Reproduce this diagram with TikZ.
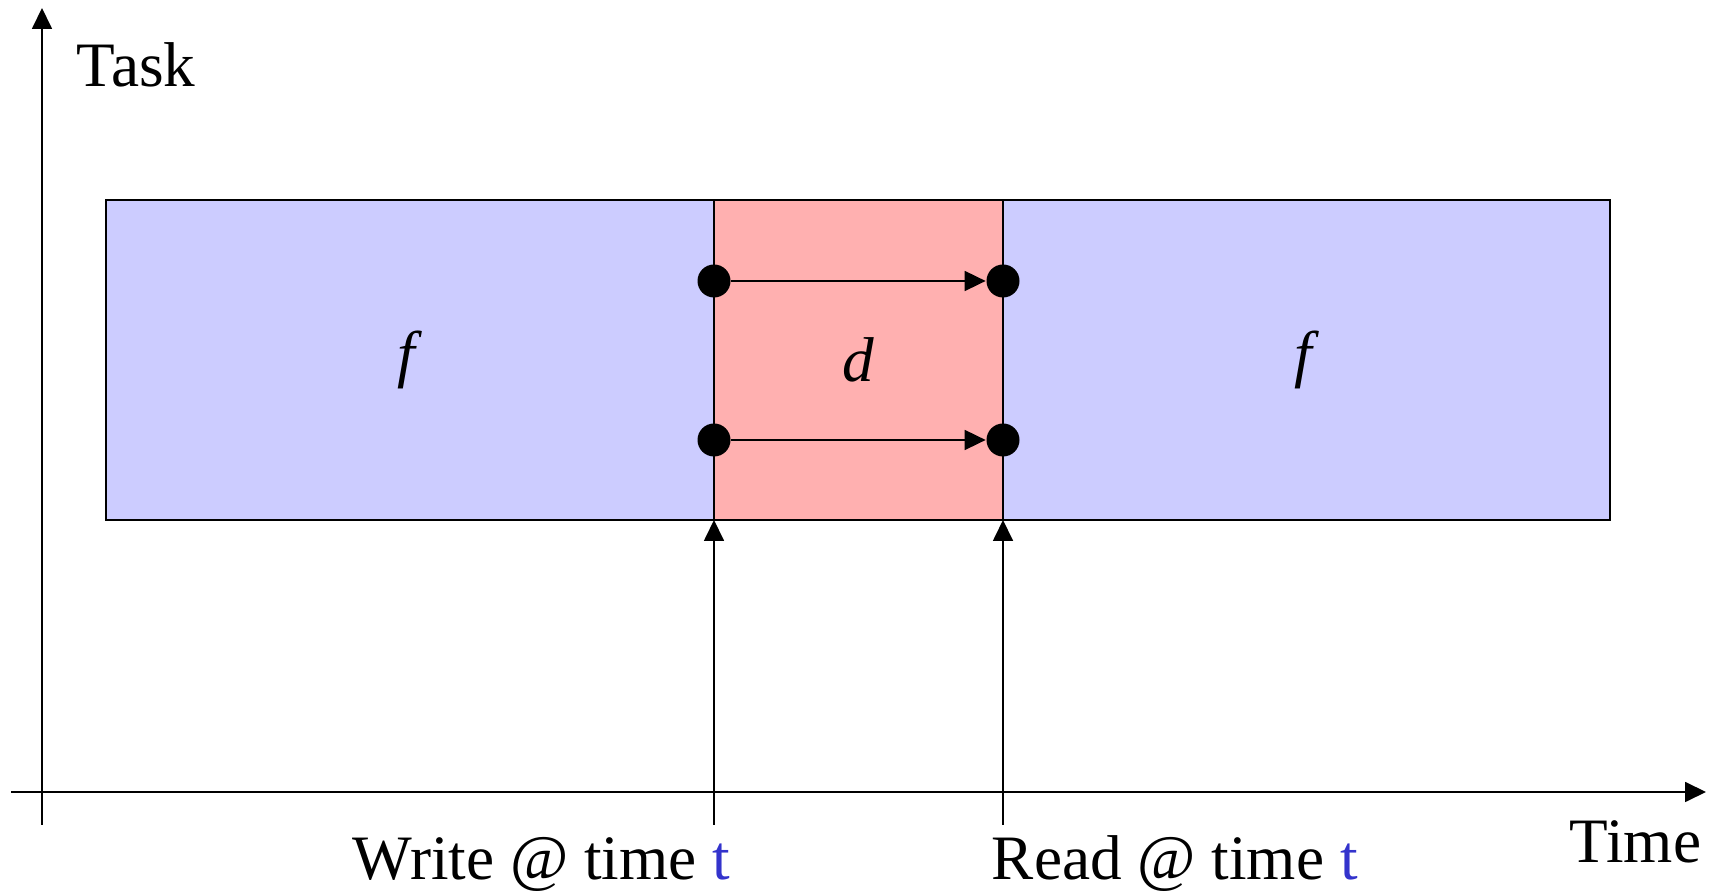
\documentclass[tikz,border=0pt]{standalone}
\usepackage{fontspec}
\setmainfont{Liberation Serif}
\usepackage{tikz}
\usetikzlibrary{arrows.meta,positioning,calc}
\definecolor{fblue}{RGB}{204,204,255}
\definecolor{dred}{RGB}{255,176,176}
\definecolor{tblue}{RGB}{51,51,204}

\begin{document}
\begin{tikzpicture}[
  font=\fontsize{36}{40}\selectfont,
  line width=1pt,
  seg/.style={draw, outer sep=0pt, inner sep=0pt, minimum height=6.4cm},
  fseg/.style={seg, fill=fblue},
  dseg/.style={seg, fill=dred},
  dot/.style={circle, fill=black, inner sep=0pt, minimum size=0.66cm},
  arr/.style={-{Triangle[length=0.42cm, width=0.4cm]}},
  lab/.style={anchor=base west, inner sep=0pt}
]
\useasboundingbox (0,0) rectangle (34.26,17.9);
% axes
\coordinate (ybot) at (0.84,1.4);
\coordinate (ytop) at (0.84,17.74);
\coordinate (xl) at (0.22,2.06);
\coordinate (xr) at (34.12,2.06);
\draw[arr] (ybot) -- (ytop);
\draw[arr] (xl) -- (xr);
\node[lab] (task) at (1.52,16.16) {Task};
\node[lab] (time) at (31.38,0.64) {Time};
% task timeline
\node[fseg, minimum width=12.16cm] (f1) at (8.2,10.7) {\textit{f}};
\node[dseg, minimum width=5.78cm, right=0pt of f1] (d) {\textit{d}};
\node[fseg, minimum width=12.14cm, right=0pt of d] (f2) {\textit{f}};
% data items
\node[dot] (w1) at (d.west |- 0,12.28) {};
\node[dot] (w2) at (d.west |- 0,9.1) {};
\node[dot] (r1) at (d.east |- 0,12.28) {};
\node[dot] (r2) at (d.east |- 0,9.1) {};
\draw[arr] (w1) -- (r1);
\draw[arr] (w2) -- (r2);
% write / read instants
\coordinate (wb) at (d.south west |- ybot);
\coordinate (rb) at (d.south east |- ybot);
\draw[arr] (wb) -- (d.south west);
\draw[arr] (rb) -- (d.south east);
\node[lab] (write) at (7.04,0.3) {Write @ time \textcolor{tblue}{t}};
\node[lab] (read) at (19.82,0.3) {Read @ time \textcolor{tblue}{t}};
\end{tikzpicture}
\end{document}
